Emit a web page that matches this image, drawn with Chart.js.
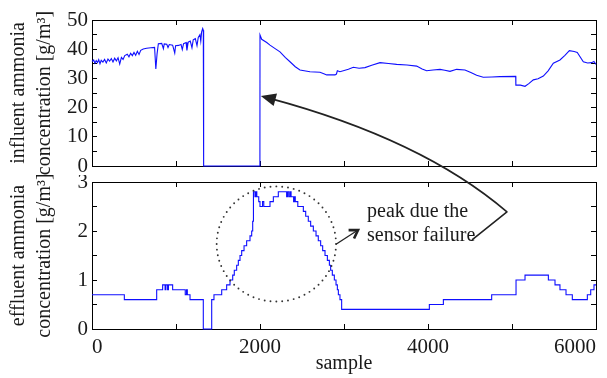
<!DOCTYPE html>
<html>
<head>
<meta charset="utf-8">
<script src="https://cdn.jsdelivr.net/npm/chart.js@4.4.1/dist/chart.umd.min.js"></script>
<style>
  html, body { margin: 0; padding: 0; background: #fff; }
  #wrap { position: relative; width: 607px; height: 378px; overflow: hidden; }
  #wrap canvas { position: absolute; left: 0; }
</style>
</head>
<body>
<div id="wrap">
  <canvas id="influent" width="607" height="175" style="top:0px"></canvas>
  <canvas id="effluent" width="607" height="203" style="top:175px"></canvas>
  <canvas id="notes" width="607" height="378" style="top:0px"></canvas>
</div>
<script>
// influent ammonia (top panel), sensor drops to zero between ~1330 and 2000
const influentSample = [0, 20, 35, 50, 65, 80, 95, 110, 130, 150, 170, 190, 210, 230, 250, 270, 290,
  310, 330, 350, 370, 390, 420, 440, 460, 480, 500, 520, 540, 560, 580, 610, 650, 700, 745, 760,
  775, 790, 830, 850, 860, 890, 905, 920, 960, 985, 995, 1030, 1060, 1075, 1090, 1120, 1130, 1145,
  1170, 1190, 1205, 1230, 1250, 1265, 1285, 1295, 1305, 1318, 1325, 1329, 1999, 2000, 2020, 2080,
  2119, 2180, 2238, 2300, 2357, 2420, 2476, 2595, 2714, 2760, 2794, 2893, 2910, 2921, 2952, 3052,
  3111, 3180, 3250, 3330, 3429, 3530, 3627, 3750, 3865, 3930, 3984, 4060, 4143, 4200, 4262, 4341,
  4440, 4510, 4579, 4658, 4760, 4857, 5044, 5046, 5100, 5155, 5200, 5254, 5310, 5373, 5430, 5492,
  5571, 5630, 5683, 5740, 5777, 5849, 5900, 5948, 5975, 6000];
const influentValue = [35.8, 36.3, 35.2, 36.1, 35.4, 36.4, 35.0, 36.2, 35.6, 36.5, 35.3, 36.6, 35.9,
  36.8, 35.6, 36.9, 36.0, 37.1, 34.9, 37.2, 36.5, 37.8, 38.3, 37.4, 38.6, 37.8, 38.9, 37.9, 39.3,
  38.2, 39.6, 40.1, 40.3, 40.5, 40.6, 33.2, 38.5, 41.9, 42.0, 40.2, 41.8, 41.7, 40.6, 41.6, 41.4,
  38.7, 41.2, 41.3, 41.6, 39.9, 41.9, 42.3, 39.6, 42.4, 42.8, 40.5, 43.2, 43.6, 41.2, 44.0, 45.0,
  42.8, 45.9, 47.1, 46.5, 0, 0, 44.9, 43.4, 42.3, 41.4, 40.2, 39.1, 37.2, 35.7, 34.0, 32.9, 32.3,
  32.1, 31.6, 31.2, 31.2, 31.5, 32.6, 32.3, 33.1, 33.8, 33.5, 33.7, 34.5, 35.4, 35.1, 34.8, 34.6,
  34.2, 33.2, 32.6, 32.9, 33.1, 32.8, 32.4, 33.1, 32.9, 32.0, 31.1, 30.4, 30.5, 30.6, 30.7, 27.7,
  27.7, 27.3, 28.2, 29.5, 29.9, 30.8, 32.6, 35.2, 36.3, 37.9, 39.5, 39.2, 38.9, 35.7, 35.3, 35.4,
  35.8, 34.8];

// effluent ammonia (bottom panel), stepwise: each value holds from its sample onward
const effluentSample = [0, 385, 770, 841, 870, 880, 900, 910, 960, 1110, 1125, 1135, 1167, 1325,
  1425, 1452, 1544, 1603, 1643, 1675, 1694, 1722, 1742, 1762, 1782, 1810, 1841, 1881, 1901, 1913,
  1922, 1940, 1952, 1962, 1985, 2000, 2030, 2045, 2119, 2159, 2218, 2317, 2330, 2345, 2360, 2370,
  2400, 2410, 2420, 2450, 2476, 2516, 2544, 2575, 2603, 2635, 2667, 2694, 2722, 2746, 2774, 2802,
  2826, 2841, 2861, 2885, 2905, 2921, 2933, 2952, 2972, 4016, 4183, 4758, 5048, 5155, 5433, 5512,
  5571, 5643, 5718, 5897, 5937, 5976, 6000];
const effluentValue = [0.7, 0.6, 0.8, 0.9, 0.8, 0.9, 0.8, 0.9, 0.8, 0.7, 0.8, 0.7, 0.6, 0,
  0.6, 0.7, 0.8, 0.9, 1.0, 1.1, 1.2, 1.3, 1.4, 1.5, 1.6, 1.7, 1.8, 1.9, 2.0, 2.2,
  2.8, 2.7, 2.8, 2.7, 2.6, 2.5, 2.6, 2.5, 2.6, 2.7, 2.8, 2.7, 2.8, 2.7, 2.8, 2.7,
  2.6, 2.7, 2.6, 2.5, 2.5, 2.4, 2.3, 2.2, 2.1, 2.0, 1.9, 1.8, 1.7, 1.6, 1.5, 1.4,
  1.3, 1.2, 1.1, 1.0, 0.9, 0.8, 0.7, 0.6, 0.4, 0.5, 0.6, 0.7, 1.0, 1.1, 1.0, 0.9,
  0.8, 0.7, 0.6, 0.7, 0.8, 0.9, 0.9];

const sampleTicks = [0, 2000, 4000, 6000];
const influentTicks = [0, 10, 20, 30, 40, 50];
const effluentTicks = [0, 1, 2, 3];

const SERIF = '"Liberation Serif", "Times New Roman", serif';
const BLUE = 'rgb(15,15,255)';
const INK = '#1a1a1a';

function points(xs, ys) {
  return xs.map((x, i) => ({ x: x, y: ys[i] }));
}

// MATLAB-like boxed axes: ticks point inward, unlabeled minor ticks
function axis(position, min, max, step, labels, opts) {
  const horizontal = position === 'top' || position === 'bottom';
  return {
    type: 'linear',
    position: position,
    min: min,
    max: max,
    border: { display: true, color: '#000', width: 1 },
    grid: { display: true, drawOnChartArea: false, drawTicks: true, tickLength: -5, color: '#000', lineWidth: 1 },
    ticks: {
      display: opts.showLabels,
      stepSize: step,
      autoSkip: false,
      maxRotation: 0,
      align: opts.align || 'center',
      padding: opts.pad,
      color: INK,
      font: { family: SERIF, size: 21 },
      callback: v => labels.includes(v) ? String(v) : ''
    },
    title: opts.title ? {
      display: true,
      text: opts.title,
      color: INK,
      font: { family: SERIF, size: 20, lineHeight: 1.3 },
      padding: opts.titlePad
    } : { display: false },
    afterFit: s => {
      if (horizontal) s.height = opts.size; else s.width = opts.size;
      s.paddingLeft = 0; s.paddingRight = 0; s.paddingTop = 0; s.paddingBottom = 0;
    }
  };
}

function panel(canvasId, data, stepped, yMin, yMax, yStep, yLabels, yTitle, pad, showX) {
  return new Chart(document.getElementById(canvasId), {
    type: 'line',
    data: {
      datasets: [{
        data: data,
        borderColor: BLUE,
        borderWidth: 1.1,
        pointRadius: 0,
        tension: 0,
        stepped: stepped,
        clip: false
      }]
    },
    options: {
      responsive: false,
      animation: false,
      events: [],
      layout: { padding: pad },
      plugins: { legend: { display: false }, tooltip: { enabled: false } },
      scales: {
        x: axis('bottom', 0, 6000, 1000, sampleTicks, {
          showLabels: showX, pad: 11, size: showX ? 49 : 0, align: 'inner',
          title: showX ? 'sample' : null, titlePad: { top: 0, bottom: 1 }
        }),
        xTop: axis('top', 0, 6000, 1000, sampleTicks, { showLabels: false, pad: 0, size: 0 }),
        y: axis('left', yMin, yMax, yStep, yLabels, {
          showLabels: true, pad: 9, size: 92, title: yTitle, titlePad: { top: 6, bottom: 0 }
        }),
        yRight: axis('right', yMin, yMax, yStep, yLabels, { showLabels: false, pad: 0, size: 0 })
      }
    }
  });
}

const influentChart = panel('influent', points(influentSample, influentValue), false, 0, 50, 5, influentTicks,
  ['influent ammonia', 'concentration [g/m³]'], { left: 0, top: 20, right: 11, bottom: 9 }, false);
const effluentChart = panel('effluent', points(effluentSample, effluentValue), 'before', 0, 3, 0.5, effluentTicks,
  ['effluent ammonia', 'concentration [g/m³]'], { left: 0, top: 7, right: 11, bottom: 0 }, true);

// annotation layer spanning both panels
const INFLUENT_OFFSET = 0, EFFLUENT_OFFSET = 175;
function at(chart, offset, sample, value) {
  return [chart.scales.x.getPixelForValue(sample), offset + chart.scales.y.getPixelForValue(value)];
}
const inTop = (s, v) => at(influentChart, INFLUENT_OFFSET, s, v);
const inBottom = (s, v) => at(effluentChart, EFFLUENT_OFFSET, s, v);

const ctx = document.getElementById('notes').getContext('2d');
ctx.strokeStyle = '#222';

// dotted ring around the peak
const [cx0, cy0] = inBottom(1484, 2.91);
const [cx1, cy1] = inBottom(2905, 0.56);
const rx = (cx1 - cx0) / 2, ry = (cy1 - cy0) / 2;
const ccx = (cx0 + cx1) / 2, ccy = (cy0 + cy1) / 2;
ctx.fillStyle = '#333';
for (let i = 0; i < 64; i++) {
  const a = i / 64 * Math.PI * 2;
  ctx.beginPath();
  ctx.arc(ccx + rx * Math.cos(a), ccy + ry * Math.sin(a), 0.95, 0, Math.PI * 2);
  ctx.fill();
}

// label
ctx.fillStyle = INK;
ctx.font = '20px ' + SERIF;
ctx.textBaseline = 'middle';
ctx.textAlign = 'left';
const [tx, ty1] = inBottom(3274, 2.39);
const [, ty2] = inBottom(3274, 1.90);
ctx.fillText('peak due the', tx, ty1);
ctx.fillText('sensor failure', tx, ty2);

function head(tipX, tipY, fromX, fromY, len, half, filled) {
  const ang = Math.atan2(tipY - fromY, tipX - fromX);
  const bx = tipX - len * Math.cos(ang), by = tipY - len * Math.sin(ang);
  const nx = -Math.sin(ang) * half, ny = Math.cos(ang) * half;
  ctx.beginPath();
  if (filled) {
    ctx.moveTo(tipX, tipY);
    ctx.lineTo(bx + nx, by + ny);
    ctx.lineTo(bx - nx, by - ny);
    ctx.closePath();
    ctx.fill();
  } else {
    ctx.moveTo(bx + nx, by + ny);
    ctx.lineTo(tipX, tipY);
    ctx.lineTo(bx - nx, by - ny);
    ctx.stroke();
  }
}

// short arrow from the ring toward the label
ctx.fillStyle = '#222';
const [sa0x, sa0y] = inBottom(2905, 1.73);
const [sa1x, sa1y] = inBottom(3167, 2.02);
ctx.lineWidth = 1.3;
ctx.beginPath(); ctx.moveTo(sa0x, sa0y); ctx.lineTo(sa1x, sa1y); ctx.stroke();
ctx.lineWidth = 2.6;
ctx.lineJoin = 'miter';
head(sa1x, sa1y, sa0x, sa0y, 8, 5, false);

// long curved arrow from the label up to the jump at sample 2000
const [ex, ey] = inBottom(4524, 1.82);
const [vx, vy] = inBottom(4940, 2.39);
const [qx, qy] = inTop(3929, 9.2);
const [px, py] = inTop(2010, 24);
ctx.lineWidth = 1.6;
ctx.lineJoin = 'round';
ctx.beginPath();
ctx.moveTo(ex, ey);
ctx.lineTo(vx, vy);
ctx.quadraticCurveTo(qx, qy, px + 8, py + 2.2);
ctx.stroke();
head(px, py, qx, qy, 15, 6.5, true);
</script>
</body>
</html>
